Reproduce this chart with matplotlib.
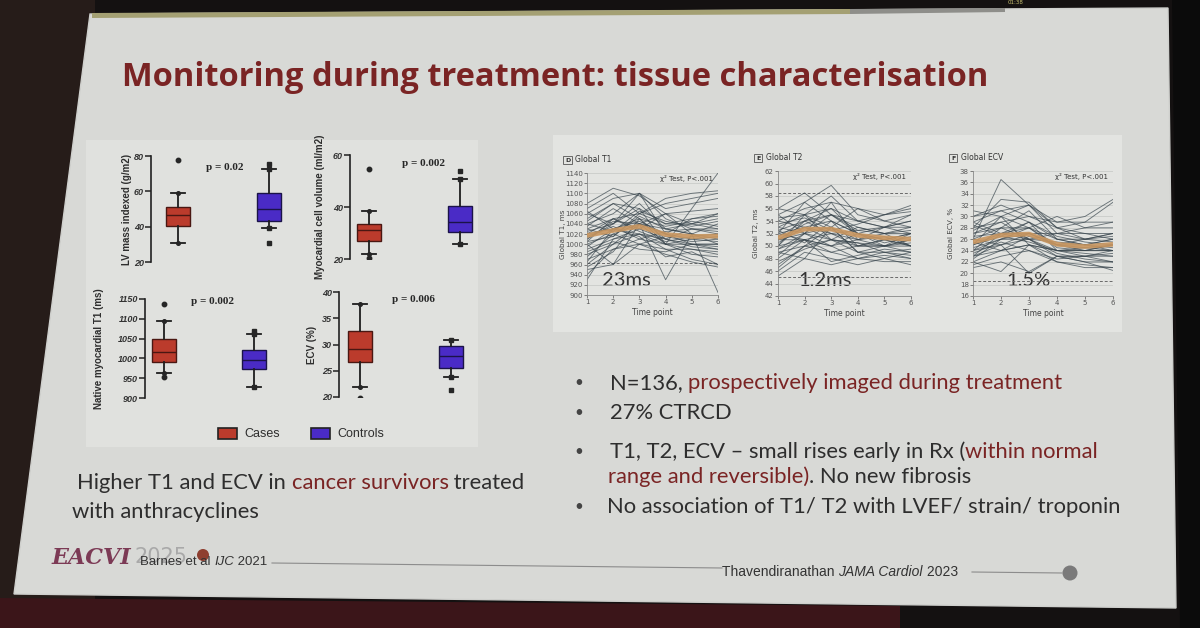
import matplotlib
matplotlib.use("Agg")
import matplotlib.pyplot as plt
from matplotlib.patches import Polygon, Rectangle, Circle

# ---------------- data ----------------
# box plot summaries: [whisker low, Q1, median, Q3, whisker high]
LV_CASES = [30.8, 40.4, 46.6, 51.1, 59.0]
LV_CASES_OUT = [77.7]
LV_CTRL = [39.2, 43.2, 50.0, 59.0, 72.6]
LV_CTRL_OUT = [75.5, 30.8]

MCV_CASES = [21.9, 26.9, 31.2, 33.5, 38.5]
MCV_CASES_OUT = [54.6, 20.4]
MCV_CTRL = [25.8, 30.4, 34.2, 40.4, 50.8]
MCV_CTRL_OUT = [53.8, 18.0]

T1N_CASES = [962, 992, 1017, 1048, 1094]
T1N_CASES_OUT = [1138, 953]
T1N_CTRL = [928, 973, 997, 1020, 1062]
T1N_CTRL_OUT = [1068]

ECVB_CASES = [21.9, 26.7, 29.1, 32.6, 37.7]
ECVB_CASES_OUT = [19.8]
ECVB_CTRL = [23.8, 25.5, 27.8, 29.7, 30.9]
ECVB_CTRL_OUT = [21.3]

P_VALUES = ["p = 0.02", "p = 0.002", "p = 0.002", "p = 0.006"]
BOX_YLABELS = ["LV mass indexed (g/m2)", "Myocardial cell volume (ml/m2)",
               "Native myocardial T1 (ms)", "ECV (%)"]
LV_TICKS = [20, 40, 60, 80]
MCV_TICKS = [20, 40, 60]
T1N_TICKS = [900, 950, 1000, 1050, 1100, 1150]
ECVB_TICKS = [20, 25, 30, 35, 40]
GROUPS = ["Cases", "Controls"]

# longitudinal data (time points 1..6)
TIME = [1, 2, 3, 4, 5, 6]
T1_MEAN = [1017, 1027, 1035, 1019, 1015, 1016]
T1_LINES = [
    [1080, 1110, 1095, 1060, 1040, 1030],
    [1070, 1100, 1060, 1090, 1100, 1105],
    [1060, 1090, 1100, 1070, 1080, 1090],
    [1050, 1080, 1070, 1040, 1050, 1060],
    [1040, 1060, 1100, 1050, 1030, 1020],
    [1030, 1050, 1060, 1040, 1040, 1050],
    [1025, 1040, 1080, 1030, 1020, 1040],
    [1020, 1030, 1050, 1010, 1030, 1030],
    [1010, 1045, 1040, 1020, 1010, 1015],
    [1000, 1020, 1040, 1030, 1020, 1010],
    [995, 1030, 1020, 1000, 1000, 1000],
    [990, 1010, 1030, 1010, 995, 990],
    [980, 1000, 1020, 990, 990, 985],
    [970, 990, 1010, 1000, 980, 975],
    [960, 1000, 1040, 1000, 990, 980],
    [950, 960, 1000, 990, 970, 960],
    [940, 990, 1000, 980, 965, 955],
    [930, 1010, 1020, 1010, 1000, 990],
    [1000, 960, 1040, 930, 1020, 1000],
    [1010, 1040, 1070, 1000, 1070, 1140],
    [1020, 1050, 1030, 1060, 1020, 905],
    [1060, 1040, 1100, 1020, 1000, 1000],
    [1035, 1070, 1040, 1060, 1065, 1070],
    [1005, 1015, 1060, 1080, 1090, 1100],
    [975, 1020, 1000, 1015, 1005, 1010],
    [1045, 1080, 1050, 1035, 1045, 1035],
    [1015, 1035, 1010, 1025, 1030, 1025],
    [985, 1005, 990, 985, 1000, 995],
    [1065, 1030, 1045, 1020, 1050, 1055],
    [955, 985, 1050, 1000, 1010, 1005],
    [1040, 1025, 1065, 1045, 1035, 1045],
    [1005, 1050, 1025, 1005, 1015, 1020],
    [1030, 1015, 1055, 1030, 1040, 1060],
    [965, 1030, 1015, 975, 985, 960],
]
T1_TICKS = list(range(900, 1141, 20))
T1_REF = [962]

T2_MEAN = [51.3, 52.7, 52.7, 51.7, 51.3, 51.1]
T2_LINES = [
    [56, 58.5, 55, 54, 55, 56],
    [55, 57, 59.7, 55, 54, 55],
    [54, 56, 57, 56, 55, 56.5],
    [53, 55, 56, 54, 53, 54],
    [52.5, 54, 55, 53, 52, 53],
    [52, 53, 54, 52, 51, 52],
    [51.5, 54, 52, 52.5, 53, 52],
    [51, 52, 53, 51, 50, 51],
    [50.5, 53, 52, 51, 51.5, 50],
    [50, 51, 52, 50, 50, 50.5],
    [49.5, 52, 51, 50.5, 49, 49.5],
    [49, 50, 51, 49, 49, 48.5],
    [48, 51, 50, 48, 48.5, 48],
    [47, 50, 49, 48, 47.5, 47.5],
    [46, 49, 48, 47, 48, 47],
    [45.2, 48, 47, 48, 49, 48],
    [46.5, 50, 53, 49, 48, 49],
    [50, 55, 51, 53, 52, 50],
    [53, 52, 57, 51, 53, 53],
    [54.5, 55, 53, 56, 54, 53],
    [56, 55, 58, 54, 53, 54],
    [52, 57, 54, 50, 51, 50],
    [48.5, 52, 55, 52, 50, 51],
    [51, 51, 50, 52, 53, 55],
    [55, 52, 50, 51, 52, 52],
    [49, 48, 53, 49, 50, 52],
    [53.5, 54.5, 52.5, 53.5, 55, 55.5],
    [50, 54, 56, 52, 51, 50],
    [52, 51, 49, 50, 51, 52],
    [54, 53, 51, 50.5, 50, 49],
    [47.5, 49.5, 51, 50, 50, 50],
    [51, 53.5, 55, 52.5, 52, 52.5],
    [49.5, 51, 47.5, 48.5, 49.5, 49],
    [52.5, 50.5, 54, 52, 50.5, 51.5],
]
T2_TICKS = list(range(42, 63, 2))
T2_REF = [58.5, 45.0]

ECV_MEAN = [25.5, 26.7, 26.9, 25.1, 24.7, 25.1]
ECV_LINES = [
    [26, 36.5, 32, 29, 30, 33],
    [28, 33, 32.5, 28, 29, 32.5],
    [30, 32, 30, 29, 29, 29],
    [31, 30, 28, 30, 28, 28],
    [29, 31, 32, 27, 27, 27],
    [27, 29, 30, 28, 26, 27],
    [26, 28, 28, 26, 25, 26],
    [25, 27, 27, 25, 25, 26],
    [24, 26, 26, 24, 24, 24],
    [23, 25, 26, 23, 23, 23],
    [22, 24, 25, 23, 22, 22],
    [21.5, 23, 24, 22, 21, 21],
    [21, 22, 20.3, 23, 22, 20.5],
    [22, 20.3, 25, 22, 21.5, 21],
    [24, 25, 20, 23, 23, 22],
    [25, 30, 25, 24, 24.5, 25],
    [27, 28, 31, 26, 26, 25.5],
    [28, 29, 26, 27, 28, 29],
    [29, 27, 28, 25, 24, 24],
    [23, 27, 29, 24, 23, 23.5],
    [24.5, 26, 27, 25, 26, 26.5],
    [26.5, 27, 26, 25.5, 25, 24.5],
    [25.5, 24, 25, 24, 24, 25],
    [23.5, 25.5, 24, 22.5, 23, 24],
    [30, 31, 29, 26, 25, 24],
    [22.5, 26, 28, 24.5, 24, 25],
    [26, 25, 27, 27, 26, 27],
    [27.5, 30, 32, 28, 27, 26],
    [24, 28, 26, 23.5, 22.5, 22],
    [28.5, 26.5, 29, 26.5, 25.5, 25],
    [25, 26.5, 25.5, 24, 23.5, 23],
    [23, 24, 26.5, 25, 24.5, 24],
]
ECV_TICKS = list(range(16, 39, 2))
ECV_REF = [18.7]

TITLE = "Monitoring during treatment: tissue characterisation"

# ---------------- figure ----------------
W, H = 1200, 628
fig = plt.figure(figsize=(12, 6.28), dpi=100)
fig.patch.set_facecolor('#141111')
bg = fig.add_axes([0, 0, 1, 1])
bg.set_xlim(0, W)
bg.set_ylim(H, 0)
bg.axis('off')
renderer = fig.canvas.get_renderer()

RED = '#7a2424'
DARK = '#2e2e2e'
BODY = 'Lato'

def pax(x0, y0, x1, y1):
    return fig.add_axes([x0 / W, 1 - y1 / H, (x1 - x0) / W, (y1 - y0) / H])

# surroundings of the projected slide
bg.add_patch(Polygon([(0, 0), (95, 0), (95, 600), (0, 600)], closed=True, fc='#261c19', ec='none'))
bg.add_patch(Polygon([(0, 598), (900, 606), (900, 628), (0, 628)], closed=True, fc='#3b1519', ec='none'))
bg.add_patch(Polygon([(1172, 0), (1200, 0), (1200, 628), (1180, 628)], closed=True, fc='#0b0b0b', ec='none'))
# slide
bg.add_patch(Polygon([(90, 14), (1168, 8), (1176, 608), (14, 594)], closed=True,
                     fc='#d8d9d6', ec='#cfd0cd', lw=1))
# progress bar at top of slide
bg.add_patch(Polygon([(92, 13), (850, 9), (850, 14), (92, 18)], closed=True, fc='#a4a073', ec='none'))
bg.add_patch(Polygon([(850, 9), (1005, 8), (1005, 12), (850, 14)], closed=True, fc='#8e8e8a', ec='none'))
bg.text(1008, 3, "01:38", fontsize=4, color='#c8c070', va='center', family='DejaVu Sans')

# lighter figure panels
bg.add_patch(Rectangle((86, 140), 392, 307, fc='#e0e1de', ec='none'))
bg.add_patch(Rectangle((553, 135), 569, 197, fc='#e3e4e1', ec='none'))

# title
bg.text(122, 86, TITLE, fontsize=23.5, fontweight='bold', color=RED, family='Open Sans', va='baseline')


def text_width(s, **kw):
    t = bg.text(0, 0, s + "x", **kw)
    w1 = t.get_window_extent(renderer).width
    t.remove()
    t = bg.text(0, 0, "x", **kw)
    w2 = t.get_window_extent(renderer).width
    t.remove()
    return w1 - w2


def rich(x, y, parts, **kw):
    cur = x
    for s, col, extra in parts:
        k = dict(kw)
        k.update(extra)
        bg.text(cur, y, s, color=col, va='center', ha='left', **k)
        cur += text_width(s, **k)


# ---------------- box plots ----------------
CASE_FC, CASE_EC = '#bb3b2c', '#4a1712'
CTRL_FC, CTRL_EC = '#4a2bc6', '#1b1348'


def box_panel(rect, xlim, ylim, ticks, cases, cases_out, ctrl, ctrl_out, ylabel, pval, pxy, ylab_x):
    ax = pax(*rect)
    stats = []
    for vals, outs in ((cases, cases_out), (ctrl, ctrl_out)):
        stats.append(dict(whislo=vals[0], q1=vals[1], med=vals[2], q3=vals[3], whishi=vals[4], fliers=outs))
    width = 24 / ((rect[2] - rect[0]) / (xlim[1] - xlim[0]))
    bp = ax.bxp(stats, positions=[1, 2], widths=width, patch_artist=True, capwidths=width * 0.55,
                showfliers=True)
    for patch, fc, ec in zip(bp['boxes'], (CASE_FC, CTRL_FC), (CASE_EC, CTRL_EC)):
        patch.set_facecolor(fc)
        patch.set_edgecolor(ec)
        patch.set_linewidth(1.0)
    for i, med in enumerate(bp['medians']):
        med.set_color((CASE_EC, CTRL_EC)[i])
        med.set_linewidth(1.0)
    for w in bp['whiskers'] + bp['caps']:
        w.set_color('#1e1e1e')
        w.set_linewidth(1.3)
    for i, fl in enumerate(bp['fliers']):
        fl.set_marker('o' if i == 0 else 's')
        fl.set_markerfacecolor('#262626')
        fl.set_markeredgecolor('#262626')
        fl.set_markersize(3.2)
    # markers at whisker ends (as in original)
    for i, vals in enumerate((cases, ctrl)):
        ax.plot([1 + i] * 2, [vals[0], vals[4]], ls='none', marker='o' if i == 0 else 's',
                ms=2.6, color='#262626')
    ax.set_xlim(*xlim)
    ax.set_ylim(*ylim)
    ax.set_yticks(ticks)
    ax.set_yticklabels([str(t) for t in ticks], fontsize=6.5, fontweight='bold', style='italic',
                       color='#333333', family='Liberation Sans')
    ax.set_xticks([])
    for s in ('top', 'right', 'bottom'):
        ax.spines[s].set_visible(False)
    ax.spines['left'].set_linewidth(1.2)
    ax.spines['left'].set_color('#222222')
    ax.tick_params(axis='y', length=4, width=1.1, color='#222222', pad=1)
    ax.set_facecolor('none')
    ax.patch.set_alpha(0)
    bg.text(ylab_x, (rect[1] + rect[3]) / 2, ylabel, rotation=90, ha='center', va='center',
            fontsize=7, fontweight='bold', color='#2e2e2e', family='Liberation Sans')
    bg.text(pxy[0], pxy[1], pval, fontsize=8, fontweight='bold', color='#262626',
            family='Liberation Serif', va='center')
    return ax


box_panel((151, 156, 300, 262), (1 - 27 / 91, 2 + 31 / 91), (20, 80), LV_TICKS,
          LV_CASES, LV_CASES_OUT, LV_CTRL, LV_CTRL_OUT, BOX_YLABELS[0], P_VALUES[0], (206, 167), 127)
box_panel((350, 155, 485, 259), (1 - 19 / 91, 2 + 25 / 91), (20, 60), MCV_TICKS,
          MCV_CASES, MCV_CASES_OUT, MCV_CTRL, MCV_CTRL_OUT, BOX_YLABELS[1], P_VALUES[1], (402, 163), 320)
box_panel((145, 299, 285, 398), (1 - 19 / 90, 2 + 31 / 90), (900, 1150), T1N_TICKS,
          T1N_CASES, T1N_CASES_OUT, T1N_CTRL, T1N_CTRL_OUT, BOX_YLABELS[2], P_VALUES[2], (191, 302), 99)
box_panel((339, 292, 480, 397), (1 - 21 / 91, 2 + 29 / 91), (20, 40), ECVB_TICKS,
          ECVB_CASES, ECVB_CASES_OUT, ECVB_CTRL, ECVB_CTRL_OUT, BOX_YLABELS[3], P_VALUES[3], (392, 300), 312)

# legend
bg.add_patch(Rectangle((218, 428), 19, 11, fc=CASE_FC, ec='#222222', lw=1.2))
bg.text(244, 434, GROUPS[0], fontsize=9, color='#2e2e2e', family='Liberation Sans', va='center')
bg.add_patch(Rectangle((311, 428), 19, 11, fc=CTRL_FC, ec='#222222', lw=1.2))
bg.text(337, 434, GROUPS[1], fontsize=9, color='#2e2e2e', family='Liberation Sans', va='center')


# ---------------- longitudinal panels ----------------
def line_panel(rect, lines, mean, ticks, refs, letter, title, ylabel, big, bigxy, lab_x):
    ax = pax(*rect)
    for t in ticks:
        ax.axhline(t, color='#c4c6c4', lw=0.5, zorder=0)
    for r in refs:
        ax.axhline(r, color='#6a6a6a', lw=0.7, ls=(0, (3, 2)), zorder=1)
    for row in lines:
        ax.plot(TIME, row, color='#36434b', lw=0.65, alpha=0.7, zorder=2)
    ax.plot(TIME, mean, color='#c9965f', lw=3.4, alpha=0.9, zorder=3, solid_capstyle='butt')
    ax.set_xlim(1, 6)
    ax.set_ylim(ticks[0], ticks[-1])
    ax.set_yticks(ticks)
    ax.set_xticks(TIME)
    ax.tick_params(labelsize=5, colors='#555555', length=2, width=0.5, pad=1)
    for s in ('top', 'right'):
        ax.spines[s].set_visible(False)
    for s in ('left', 'bottom'):
        ax.spines[s].set_color('#888888')
        ax.spines[s].set_linewidth(0.6)
    ax.set_facecolor('none')
    ax.set_xlabel("Time point", fontsize=5.5, color='#444444', labelpad=2)
    bg.text(lab_x, (rect[1] + rect[3]) / 2, ylabel, rotation=90, fontsize=5.2, color='#444444',
            ha='center', va='center')
    bg.text(rect[0] - 22, rect[1] - 13, letter, fontsize=4.5, fontweight='bold', color='#333333',
            va='center', ha='left',
            bbox=dict(boxstyle='square,pad=0.25', fc='none', ec='#555555', lw=0.6))
    bg.text(rect[0] - 12, rect[1] - 13, title, fontsize=5.5, color='#333333', va='center', ha='left')
    bg.text(rect[2] - 5, rect[1] + 5, "\u03c7\u00b2 Test, P<.001", fontsize=5, color='#333333',
            va='center', ha='right')
    bg.text(bigxy[0], bigxy[1], big, fontsize=14.5, color='#333333', family=BODY, va='center')
    return ax


line_panel((587, 173, 718, 295), T1_LINES, T1_MEAN, T1_TICKS, T1_REF, "D", "Global T1",
           "Global T1, ms", "23ms", (602, 280), 563)
line_panel((778, 171, 911, 296), T2_LINES, T2_MEAN, T2_TICKS, T2_REF, "E", "Global T2",
           "Global T2, ms", "1.2ms", (798, 280), 756)
line_panel((973, 171, 1113, 296), ECV_LINES, ECV_MEAN, ECV_TICKS, ECV_REF, "F", "Global ECV",
           "Global ECV, %", "1.5%", (1006, 281), 951)

# ---------------- bullet text ----------------
FS = 15.8
bullets_y = [383, 413, 452, 507]
for by in bullets_y:
    bg.text(579, by, "\u2022", fontsize=11, color='#444444', va='center', ha='center', family=BODY)
rich(610, 383, [("N=136, ", DARK, {}), ("prospectively imaged during treatment", RED, {})],
     fontsize=FS, family=BODY)
rich(610, 413, [("27% CTRCD", DARK, {})], fontsize=FS, family=BODY)
rich(610, 452, [("T1, T2, ECV \u2013 small rises early in Rx (", DARK, {}), ("within normal", RED, {})],
     fontsize=FS, family=BODY)
rich(608, 477, [("range and reversible)", RED, {}), (". No new fibrosis", DARK, {})],
     fontsize=FS, family=BODY)
rich(607, 507, [("No association of T1/ T2 with LVEF/ strain/ troponin", DARK, {})],
     fontsize=FS, family=BODY)

rich(77, 483, [("Higher T1 and ECV in ", DARK, {}), ("cancer survivors", RED, {}), (" treated", DARK, {})],
     fontsize=FS, family=BODY)
rich(72, 512, [("with anthracyclines", DARK, {})], fontsize=FS, family=BODY)

# ---------------- footer ----------------
bg.plot([272, 722], [563, 568], color='#8c8c8c', lw=0.8)
bg.plot([972, 1062], [572, 573], color='#8c8c8c', lw=0.8)
bg.add_patch(Circle((1070, 573), 7.5, fc='#7a7a7a', ec='none'))
bg.text(52, 558, "EACVI", fontsize=16, fontweight='bold', style='italic', family='DejaVu Serif',
        color='#7c3a55', va='center')
bg.text(135, 557, "2025", fontsize=15, color='#a9a9a9', family='DejaVu Sans', va='center')
bg.add_patch(Circle((203, 555), 6, fc='#8e3f30', ec='none'))
rich(140, 562, [("Barnes et al ", '#333333', {}), ("IJC", '#333333', {'style': 'italic'}),
                (" 2021", '#333333', {})], fontsize=9.5, family='Liberation Sans')
rich(722, 572, [("Thavendiranathan ", '#333333', {}), ("JAMA Cardiol", '#333333', {'style': 'italic'}),
                (" 2023", '#333333', {})], fontsize=10, family='Liberation Sans')

fig.savefig("out.png", dpi=100, facecolor=fig.get_facecolor())
